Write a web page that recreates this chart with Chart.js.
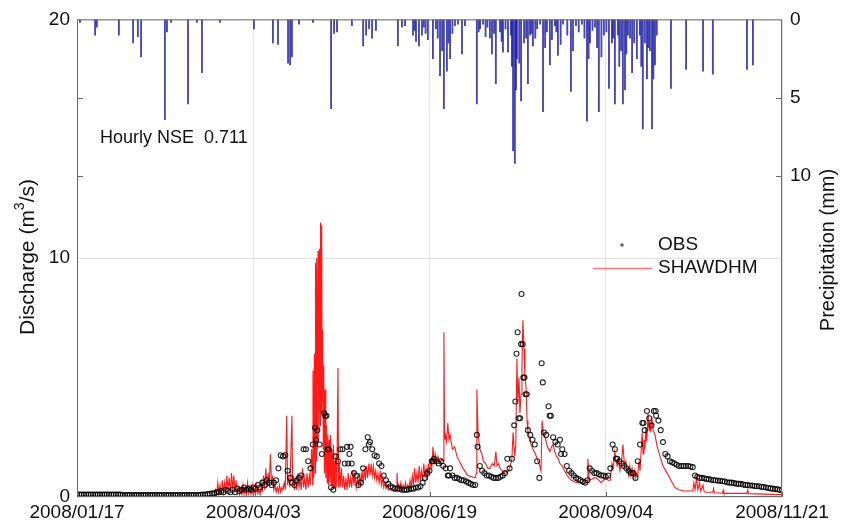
<!DOCTYPE html>
<html lang="fr">
<head>
<meta charset="utf-8">
<title>Débit horaire et précipitations</title>
<script src="https://cdn.jsdelivr.net/npm/chart.js@4.4.1/dist/chart.umd.min.js"></script>
<style>
  html, body { margin: 0; padding: 0; background: #fff; }
  #graphiqueDebit { display: block; }
</style>
</head>
<body>
<canvas id="graphiqueDebit" width="842" height="526"></canvas>
<script>
// Axe des dates : jours depuis le 17/01/2008 et libellés affichés
const JOURS_DATES    = [0, 77, 154, 231, 308];
const LIBELLES_DATES = ['2008/01/17', '2008/04/03', '2008/06/19', '2008/09/04', '2008/11/21'];

// Graduations des deux axes verticaux
const GRADUATIONS_DEBIT = [0, 10, 20];
const GRADUATIONS_PLUIE = [0, 5, 10];

// Précipitations horaires : [jour, mm]
const PLUIE = [
    [1.3, 0.2], [7.9, 1.0], [8.7, 0.5], [18.3, 1.0], [24.5, 1.5], [26.6, 1.1], [28, 2.4],
    [38.4, 6.4], [39.3, 0.8], [41.1, 0.2], [48.5, 5.4], [52.4, 0.2], [54.6, 3.4], [62.5, 0.2],
    [77.3, 0.6], [85.6, 1.5], [87.8, 1.6], [92.2, 2.8], [93.1, 2.9], [93.9, 2.4], [97, 0.3],
    [103.1, 0.2], [111, 5.7], [112.3, 0.9], [113.6, 0.8], [120.1, 0.4], [125, 1.7], [126.3, 1.0],
    [127.6, 0.6], [128.9, 1.2], [130.6, 0.7], [140.2, 1.7], [142, 0.5], [143.3, 0.4],
    [146.8, 1.0], [147.5, 0.7], [148.1, 1.4], [149.4, 1.7], [150.7, 1.0], [151.5, 0.5],
    [152.3, 0.9], [153.3, 1.3], [155.5, 2.5], [156.8, 0.6], [157.6, 1.2], [158.6, 3.6],
    [159.5, 2.0], [160.3, 5.7], [161.6, 3.3], [162.3, 1.5], [163, 2.5], [164, 0.9], [165.1, 0.4],
    [166.5, 0.3], [168.2, 2.2], [169.5, 0.4], [174.7, 5.4], [175.5, 0.8], [176.1, 0.6],
    [177.4, 0.3], [178.5, 1.1], [179.3, 0.5], [180.4, 1.2], [181.3, 2.2], [182.2, 0.9],
    [183, 4.1], [184.8, 0.8], [185.5, 1.4], [186.1, 2.1], [187.2, 0.6], [188.3, 2.1],
    [189.6, 1.0], [190, 3.0], [190.5, 8.4], [191.3, 9.2], [191.8, 4.5], [192.2, 2.5],
    [193.2, 2.8], [194, 5.2], [195.3, 1.5], [196.2, 1.2], [197, 4.1], [197.9, 1.0], [198.5, 0.9],
    [199.2, 1.7], [200.2, 1.2], [201, 0.6], [202.3, 0.3], [203.6, 5.9], [204.5, 1.8],
    [205.3, 0.8], [206.6, 2.9], [207.5, 1.3], [208.8, 0.4], [209.4, 0.8], [210.1, 2.3],
    [211.3, 1.6], [212.3, 0.3], [214.2, 1.0], [215.8, 4.6], [216.7, 2.0], [218, 0.4],
    [219.2, 0.8], [220.6, 0.3], [221.7, 1.2], [222.8, 6.5], [223.5, 2.5], [224.1, 1.5],
    [225.2, 0.7], [226.3, 0.5], [227.2, 1.8], [228, 5.9], [229.1, 2.4], [230.2, 1.0],
    [231.3, 0.8], [232.4, 4.4], [233.7, 1.5], [234.2, 1.2], [235, 5.4], [236.3, 1.0],
    [236.9, 3.0], [237.7, 2.0], [238.5, 5.4], [239.4, 4.5], [240, 2.2], [240.7, 1.0],
    [241.6, 1.2], [242.5, 3.4], [243.4, 1.5], [244.6, 2.5], [245.9, 1.0], [246.5, 3.0],
    [247.2, 7.0], [248.1, 1.5], [249, 3.8], [249.6, 1.8], [250.3, 2.0], [251.2, 7.0],
    [251.8, 3.8], [252.5, 2.9], [253.3, 1.0], [259.5, 4.4], [266.1, 3.2], [273.5, 3.3],
    [277.8, 3.5], [292.7, 3.2], [295.3, 2.9]
];

// Débit observé, une valeur par jour (indice = jour)
const OBS_JOURNALIER = [
    0.1, 0.1, 0.1, 0.1, 0.1, 0.1, 0.1, 0.1, 0.1, 0.1,
    0.1, 0.1, 0.1, 0.1, 0.1, 0.1, 0.1, 0.1, 0.1, 0.1,
    0.08, 0.08, 0.08, 0.08, 0.08, 0.08, 0.08, 0.08, 0.08, 0.08,
    0.08, 0.08, 0.08, 0.08, 0.08, 0.08, 0.08, 0.08, 0.08, 0.08,
    0.08, 0.08, 0.08, 0.08, 0.08, 0.08, 0.08, 0.08, 0.08, 0.08,
    0.08, 0.08, 0.08, 0.08, 0.09, 0.1, 0.1, 0.12, 0.12, 0.15,
    0.15, 0.2, 0.2, 0.25, 0.2, 0.3, 0.25, 0.2, 0.3, 0.2,
    0.35, 0.25, 0.3, 0.4, 0.3, 0.35, 0.3, 0.4, 0.35, 0.5,
    0.4, 0.6, 0.5, 0.7, 0.6, 0.5, 0.6, 0.7, 1.2, 1.75,
    1.7, 1.75, 1.1, 0.8, 0.6, 0.5, 0.7, 0.8, 0.9, 2.0,
    2.0, 1.5, 1.2, 2.2, 2.9, 2.8, 2.2, 1.8, 3.5, 3.4,
    2.0, 0.4, 0.3, 1.7, 1.5, 2.0, 2.0, 1.4, 2.1, 1.8,
    1.4, 1.0, 0.9, 0.5, 0.6, 1.2, 2.0, 2.5, 2.3, 2.0,
    1.75, 1.7, 1.4, 1.3, 0.9, 0.7, 0.55, 0.45, 0.4, 0.35,
    0.35, 0.35, 0.3, 0.3, 0.3, 0.32, 0.35, 0.35, 0.4, 0.4,
    0.45, 0.6, 0.8, 1.0, 1.1, 1.5, 1.6, 1.5, 1.4, 1.5,
    1.3, 1.2, 0.9, 1.2, 0.9, 0.8, 0.8, 0.75, 0.7, 0.7,
    0.65, 0.6, 0.55, 0.5, 0.5, 2.1, 1.3, 1.1, 1.0, 0.9,
    0.9, 0.85, 0.8, 0.8, 0.8, 0.85, 0.9, 1.0, 1.6, 1.2,
    1.6, 3.0, 6.0, 3.3, 6.4, 5.0, 4.3, 2.8, 2.6, 2.4,
    2.2, 1.5, 0.8, 5.6, 2.7, 2.6, 3.8, 3.4, 2.5, 2.3,
    2.2, 2.4, 2.0, 1.8, 1.3, 1.1, 1.0, 0.9, 0.8, 0.75,
    0.7, 0.65, 0.6, 0.7, 1.2, 1.1, 1.0, 1.0, 0.95, 0.9,
    0.9, 0.85, 0.9, 1.2, 2.2, 2.0, 1.6, 1.5, 1.4, 1.3,
    1.2, 1.1, 1.0, 1.0, 0.8, 1.5, 2.2, 3.1, 2.8, 3.6,
    3.3, 3.0, 3.6, 3.4, 3.2, 2.8, 2.3, 1.8, 1.7, 1.5,
    1.45, 1.4, 1.35, 1.3, 1.3, 1.3, 1.3, 1.3, 1.28, 1.25,
    0.9, 0.85, 0.8, 0.8, 0.78, 0.75, 0.75, 0.72, 0.7, 0.7,
    0.68, 0.68, 0.66, 0.65, 0.62, 0.6, 0.6, 0.58, 0.56, 0.55,
    0.55, 0.52, 0.5, 0.5, 0.48, 0.48, 0.46, 0.45, 0.45, 0.42,
    0.42, 0.4, 0.38, 0.36, 0.35, 0.33, 0.32, 0.3, 0.3
];

// Mesures supplémentaires pendant les crues : [jour, m3/s]
const OBS_CRUES = [
    [104.5, 2.4], [108.5, 3.4], [109.5, 2.0], [118.5, 1.4], [119.5, 2.1], [127.5, 2.2],
    [155.5, 1.5], [162.5, 0.9], [174.7, 2.6], [191.5, 4.0], [192.5, 6.9], [193.6, 3.3],
    [194.2, 8.5], [194.7, 6.4], [195.5, 5.0], [196.5, 4.3], [203.5, 4.8], [206.5, 3.4],
    [211.5, 1.8], [235.5, 1.6], [247.5, 3.1], [252.8, 3.6]
];

// Débit simulé SHAWDHM : [jour, m3/s]
const SIM = [
    [0, 0.05], [30, 0.04], [60, 0.05],
    // fonte et premières pluies
    [60.5, 0.3], [61, 0.1], [61.5, 0.6], [62, 0.15], [62.5, 0.5], [63, 0.1], [63.5, 0.7],
    [64, 0.2], [64.5, 0.6], [65, 0.15], [65.5, 0.9], [66, 0.3], [66.5, 0.8], [67, 0.2],
    [67.5, 1.0], [68, 0.3], [68.5, 0.9], [69, 0.2], [69.5, 0.7], [70, 0.15], [70.5, 0.4],
    [71, 0.1], [71.5, 0.3], [72, 0.1], [72.5, 0.5], [73, 0.1], [73.5, 0.4], [74, 0.1],
    [74.5, 0.6], [75, 0.15], [75.5, 0.4], [76, 0.1], [76.5, 0.5], [77, 0.1], [77.5, 0.3],
    [78, 0.1], [78.5, 0.5], [79, 0.15], [79.5, 0.3], [80, 0.1], [80.5, 0.6], [81, 0.2],
    [81.5, 0.9], [82, 0.3], [82.5, 1.2], [83, 0.4], [83.5, 1.0], [84, 0.5], [84.5, 1.8],
    [85, 0.5], [85.5, 0.9], [86, 0.3], [86.5, 0.5], [87, 0.2], [87.5, 0.4], [88, 0.2],
    [88.5, 0.5], [89, 0.2], [89.5, 0.4], [90, 0.3], [90.5, 0.6], [91, 0.3], [91.6, 3.4],
    [92, 0.5], [92.5, 0.8], [93, 0.4], [93.9, 3.4], [94.2, 0.6], [94.5, 0.9], [95, 0.3],
    [95.5, 0.8], [96, 0.3], [96.5, 1.0], [97, 0.4], [97.5, 0.7], [98, 0.3], [98.5, 1.2],
    [99, 0.4], [99.5, 0.8], [100, 0.3], [100.5, 1.0], [101, 0.4], [101.5, 0.9], [102, 0.5],
    [102.5, 2.0],
    // crue de fin avril
    [103, 0.5], [103.1, 5.3], [103.4, 0.8], [103.7, 6.0], [104, 1.0], [104.2, 9.8],
    [104.5, 1.5], [104.7, 10.0], [105, 2.0], [105.3, 10.3], [105.6, 2.5], [105.9, 10.4],
    [106.2, 3.0], [106.4, 11.5], [106.7, 3.5], [106.9, 11.4], [107.1, 4.0], [107.3, 7.0],
    [107.6, 2.0], [107.8, 5.5], [108.1, 1.0], [108.4, 4.5], [108.7, 0.8], [109, 3.0],
    [109.3, 0.6], [109.6, 2.6], [109.9, 0.5], [110.2, 2.4], [110.5, 0.6], [110.8, 2.6],
    [111.1, 0.5], [111.4, 2.0], [111.7, 0.4], [112, 2.2], [112.3, 0.4], [112.6, 1.5],
    [112.9, 0.3], [113.2, 1.8], [113.5, 0.4], [114, 5.4], [114.3, 0.4], [114.6, 1.4],
    [115, 0.4],
    // mai - juin
    [115.5, 1.2], [116, 0.4], [116.5, 0.9], [117, 0.3], [117.5, 0.8], [118, 0.3], [118.5, 1.0],
    [119, 0.4], [119.5, 0.8], [120, 0.4], [120.5, 1.1], [121, 0.5], [121.5, 0.9], [122, 0.4],
    [122.5, 0.8], [123, 0.4], [123.5, 1.0], [124, 0.5], [124.5, 1.1], [125, 0.6], [125.5, 1.2],
    [126, 0.7], [126.5, 1.3], [127, 0.8], [127.5, 1.4], [128, 0.9], [128.5, 1.4], [129, 0.9],
    [129.5, 1.3], [130, 0.8], [130.5, 1.1], [131, 0.7], [131.5, 1.0], [132, 0.6], [132.5, 1.0],
    [133, 0.5], [133.5, 0.8], [134, 0.4], [134.5, 0.6], [135, 0.35], [135.5, 0.5], [136, 0.3],
    [137, 0.3], [138, 0.25], [139, 0.25], [139.5, 0.3], [139.8, 1.0], [140.2, 0.3],
    [140.5, 0.5], [141, 0.3], [141.5, 0.6], [142, 0.3], [142.5, 0.5], [143, 0.3], [143.5, 0.6],
    [144, 0.3], [144.5, 0.5], [145, 0.3], [145.5, 0.7], [146, 0.4], [146.5, 0.9], [147, 0.5],
    [147.5, 1.2], [148, 0.6], [148.5, 1.0], [149, 0.6], [149.5, 1.3], [150, 0.7], [150.5, 1.1],
    [151, 0.7], [151.5, 1.4], [152, 0.8], [152.5, 1.2], [153, 0.7], [153.5, 1.4], [154, 0.9],
    [154.5, 1.6], [155, 1.2], [155.5, 2.1], [156, 1.5], [156.5, 1.8], [157, 1.4], [157.7, 1.7],
    [158.5, 1.4], [159.2, 1.6], [160, 1.5], [160.3, 6.9], [160.6, 2.4], [161, 2.6],
    [161.5, 2.3], [162, 3.1], [162.5, 2.4], [163, 2.6], [164, 2.0], [165, 2.1], [166, 1.7],
    // été
    [168.6, 1.2], [170.8, 0.9], [173.9, 0.8], [174.5, 1.0], [174.7, 4.5], [175.2, 2.7],
    [176, 2.0], [176.9, 1.8], [177.5, 1.5], [178.5, 1.4], [179.5, 1.2], [180.4, 1.2],
    [181.5, 1.4], [182.3, 1.3], [183, 1.9], [183.5, 1.3], [184.2, 1.4], [184.8, 1.2],
    [185.7, 1.1], [186.5, 1.0], [187.2, 1.1], [187.9, 1.0], [189, 1.2], [190, 1.6],
    [190.5, 2.7], [191.2, 1.7], [191.7, 2.2], [192.2, 5.8], [192.6, 4.0], [193.1, 5.0],
    [193.5, 3.5], [194, 4.3], [194.4, 5.5], [194.8, 7.4], [195.3, 6.2], [195.7, 5.0],
    [196.2, 4.6], [196.6, 3.2], [197, 2.7], [198, 2.3], [199.2, 2.0], [200.3, 1.8],
    [201.4, 1.5], [202.2, 1.3], [202.7, 1.1], [203.2, 3.2], [203.8, 2.6], [204.5, 2.5],
    [205.5, 2.1], [206.6, 1.9], [207.3, 2.1], [208, 2.2], [208.7, 1.9], [209.5, 1.7],
    [210.3, 1.6], [211, 1.4], [212, 1.3], [213, 1.1], [214.1, 0.9], [215, 0.8], [216, 0.7],
    [217, 0.65], [218.4, 0.6], [220, 0.6], [221, 0.55], [222, 0.6], [223, 0.6], [223.2, 1.6],
    [223.8, 0.7], [225, 0.75], [226, 0.8], [227, 0.8], [228, 0.7], [229, 0.6], [230, 0.7],
    [231, 0.8], [232, 0.7], [233, 0.7], [233.7, 1.4], [234.2, 1.2], [235, 1.9], [235.5, 1.5],
    [236, 1.3], [236.6, 1.5], [237.2, 1.1], [237.8, 1.4], [238.5, 2.2], [239.2, 1.3],
    [239.8, 1.5], [240.3, 1.2], [241, 0.9], [241.5, 1.3], [242, 0.9], [242.5, 1.2], [243, 0.8],
    [243.5, 1.1], [244, 0.8], [244.5, 1.0], [245, 0.9], [245.5, 1.5], [246, 1.1], [246.5, 2.0],
    [246.9, 2.7], [247.3, 1.8], [247.7, 2.4], [248.1, 2.0], [248.5, 2.9], [248.9, 2.3],
    [249.5, 3.5], [249.9, 2.8], [250.3, 3.2], [250.7, 2.7], [251.2, 3.3], [251.7, 2.8],
    [252.5, 2.6], [253.5, 2.1], [254.7, 1.7], [256, 1.3], [257.8, 1.0], [259.5, 0.7],
    // tarissement d'automne
    [261.2, 0.4], [263, 0.3], [265, 0.25], [269, 0.25], [269.5, 0.6], [270, 0.3], [270.7, 0.8],
    [271.2, 0.3], [272, 0.6], [272.5, 0.25], [273.5, 0.5], [274, 0.22], [275, 0.2],
    [277.8, 0.2], [278.1, 0.35], [278.5, 0.18], [282, 0.16], [282.3, 0.28], [282.6, 0.15],
    [285, 0.15], [292.7, 0.15], [293, 0.3], [293.4, 0.14], [300, 0.12], [308, 0.1]
];

const POLICE = '"Liberation Sans", Arial, Helvetica, sans-serif';
const COULEUR_TEXTE = '#111';

Chart.defaults.font.family = POLICE;
Chart.defaults.color = COULEUR_TEXTE;

/**
 * Transforme une liste de paires [x, y] en points Chart.js.
 */
function enPoints(paires) {
    return paires.map(([x, y]) => ({ x: x, y: y }));
}

/**
 * Cadre, graduations intérieures, titres des axes, légende et texte NSE.
 */
const decorations = {
    id: 'decorations',
    afterDatasetsDraw(chart) {
        const c    = chart.ctx;
        const zone = chart.chartArea;
        const yP   = chart.scales.yP;
        const x    = chart.scales.x;

        c.save();
        c.strokeStyle = '#6a6a6a';
        c.lineWidth = 1;
        c.strokeRect(zone.left + 0.5, zone.top + 0.5, zone.width - 1, zone.height - 1);

        // graduations tournées vers l'intérieur
        c.beginPath();
        GRADUATIONS_PLUIE.slice(1).forEach(v => {
            const py = Math.round(yP.getPixelForValue(v)) + 0.5;
            c.moveTo(zone.left, py);  c.lineTo(zone.left + 6, py);
            c.moveTo(zone.right, py); c.lineTo(zone.right - 6, py);
        });
        JOURS_DATES.forEach(j => {
            const px = Math.round(x.getPixelForValue(j)) + 0.5;
            c.moveTo(px, zone.bottom); c.lineTo(px, zone.bottom - 5);
        });
        c.stroke();
        c.restore();
    },
    afterDraw(chart) {
        const c = chart.ctx;
        c.save();
        c.fillStyle = COULEUR_TEXTE;
        c.textBaseline = 'middle';

        // Titre de gauche avec l'exposant du m3
        c.save();
        c.translate(28, 257);
        c.rotate(-Math.PI / 2);
        const gros  = '21px ' + POLICE;
        const petit = '14px ' + POLICE;
        c.font = gros;
        const debut = 'Discharge (m';
        const fin   = '/s)';
        const wDebut = c.measureText(debut).width;
        const wFin   = c.measureText(fin).width;
        c.font = petit;
        const wExp = c.measureText('3').width;
        let posX = -(wDebut + wExp + wFin) / 2;
        c.textAlign = 'left';
        c.font = gros;
        c.fillText(debut, posX, 0);
        posX += wDebut;
        c.font = petit;
        c.fillText('3', posX, -8);
        posX += wExp;
        c.font = gros;
        c.fillText(fin, posX, 0);
        c.restore();

        // Titre de droite
        c.save();
        c.translate(828, 250);
        c.rotate(-Math.PI / 2);
        c.textAlign = 'center';
        c.font = '20px ' + POLICE;
        c.fillText('Precipitation (mm)', 0, 0);
        c.restore();

        // Critère de Nash
        c.textAlign = 'left';
        c.font = '18px ' + POLICE;
        c.fillText('Hourly NSE  0.711', 100, 138);

        // Légende
        c.font = '19px ' + POLICE;
        c.fillText('OBS', 658, 245);
        c.fillText('SHAWDHM', 658, 268);
        c.fillStyle = '#666';
        c.beginPath();
        c.arc(622, 245, 1.8, 0, Math.PI * 2);
        c.fill();
        c.strokeStyle = 'rgba(255, 60, 60, 0.7)';
        c.lineWidth = 1.5;
        c.beginPath();
        c.moveTo(593, 268.5);
        c.lineTo(652, 268.5);
        c.stroke();
        c.restore();
    }
};

/**
 * Construit le graphique débit / précipitations.
 */
function creerGraphiqueDebit(elementCanvas) {
    const pointsObs = OBS_JOURNALIER.map((q, jour) => ({ x: jour, y: q }))
        .concat(enPoints(OBS_CRUES));

    new Chart(elementCanvas, {
        data: {
            datasets: [
                {
                    type            : 'bar',
                    label           : 'Precipitation',
                    data            : enPoints(PLUIE),
                    xAxisID         : 'x',
                    yAxisID         : 'yP',
                    backgroundColor : 'rgba(22, 22, 160, 0.8)',
                    barThickness    : 1.2,
                    grouped         : false,
                    order           : 3
                },
                {
                    type        : 'line',
                    label       : 'SHAWDHM',
                    data        : enPoints(SIM),
                    xAxisID     : 'x',
                    yAxisID     : 'yQ',
                    borderColor : 'rgba(255, 0, 0, 0.9)',
                    borderWidth : 1.1,
                    pointRadius : 0,
                    tension     : 0,
                    order       : 2
                },
                {
                    type                 : 'line',
                    label                : 'OBS',
                    data                 : pointsObs,
                    xAxisID              : 'x',
                    yAxisID              : 'yQ',
                    showLine             : false,
                    pointRadius          : 2.5,
                    pointBorderWidth     : 1.1,
                    pointBorderColor     : 'rgba(0, 0, 0, 0.85)',
                    pointBackgroundColor : 'rgba(0, 0, 0, 0)',
                    order                : 1
                }
            ]
        },
        options: {
            responsive       : false,
            animation        : false,
            devicePixelRatio : 1,
            layout  : { padding: { top: 17, left: 0, right: 0, bottom: 0 } },
            plugins : { legend: { display: false }, tooltip: { enabled: false } },
            scales  : {
                x: {
                    type   : 'linear',
                    min    : 0,
                    max    : 308,
                    offset : false,
                    afterBuildTicks : s => { s.ticks = JOURS_DATES.map(v => ({ value: v })); },
                    afterFit        : s => { s.height = 29; },
                    ticks : {
                        callback    : v => LIBELLES_DATES[JOURS_DATES.indexOf(v)],
                        font        : { size: 19 },
                        padding     : 4,
                        maxRotation : 0,
                        autoSkip    : false
                    },
                    grid   : { color: '#e2e2e2', drawTicks: false, offset: false },
                    border : { display: false }
                },
                yQ: {
                    position : 'left',
                    min      : 0,
                    max      : 20,
                    afterBuildTicks : s => { s.ticks = GRADUATIONS_DEBIT.map(v => ({ value: v })); },
                    afterFit        : s => { s.width = 77; },
                    ticks  : { font: { size: 19 }, padding: 7 },
                    grid   : { color: '#e2e2e2', drawTicks: false },
                    border : { display: false }
                },
                yP: {
                    position : 'right',
                    reverse  : true,
                    min      : 0,
                    max      : 30.5,
                    afterBuildTicks : s => { s.ticks = GRADUATIONS_PLUIE.map(v => ({ value: v })); },
                    afterFit        : s => { s.width = 60; },
                    ticks  : { font: { size: 19 }, padding: 8 },
                    grid   : { display: false, drawTicks: false },
                    border : { display: false }
                }
            }
        },
        plugins: [decorations]
    });
}

creerGraphiqueDebit(document.getElementById('graphiqueDebit'));
</script>
</body>
</html>
